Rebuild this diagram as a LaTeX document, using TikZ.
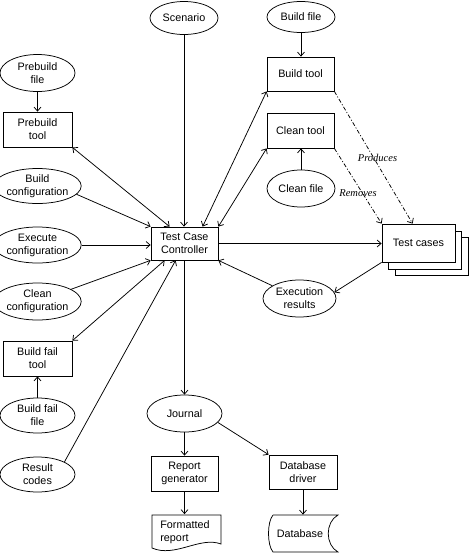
\documentclass[tikz,border=0pt]{standalone}
\usepackage{fontspec}
\setmainfont{Liberation Sans}
\newfontfamily\lblfont{Liberation Serif}
\usetikzlibrary{shapes.geometric,arrows.meta,calc}
\begin{document}
\begin{tikzpicture}[x=1pt,y=-1pt,
 every node/.style={font=\fontsize{10.8}{13}\selectfont, align=center, inner sep=0pt},
 ell/.style={draw, ellipse, minimum width=75pt, minimum height=37pt},
 box/.style={draw, rectangle, minimum width=68pt, minimum height=35pt},
 arr/.style={-{Straight Barb[length=4pt,width=7pt]}},
 darr/.style={{Straight Barb[length=4pt,width=7pt]}-{Straight Barb[length=4pt,width=7pt]}},
 dd/.style={arr, dash pattern=on 4pt off 2pt on 1pt off 2pt},
 lbl/.style={font=\lblfont\itshape\fontsize{10.5}{12}\selectfont},
 line width=0.75pt]
\useasboundingbox[fill=white] (0,0) rectangle (470,555);

% left column
\node[ell, minimum width=68pt, minimum height=33pt] (sc) at (184,18) {Scenario};
\node[ell] (pf) at (37.5,73) {Prebuild\\file};
\node[box, minimum width=69pt] (pt) at (37.5,129.5) {Prebuild\\tool};
\node[ell, minimum height=35pt] (bc) at (37.5,186) {Build\\configuration};
\node[ell, minimum height=36pt] (ec) at (37.5,245) {Execute\\configuration};
\node[box, minimum width=67pt, minimum height=33pt] (tcc) at (184.5,243.5) {Test Case\\Controller};
\node[ell] (cc) at (37.5,301.5) {Clean\\configuration};
\node[box, minimum width=69pt] (bft) at (37.5,358.5) {Build fail\\tool};
\node[ell, minimum height=35pt] (bff) at (37.5,415.5) {Build fail\\file};
\node[ell, minimum height=35pt] (rc) at (37.5,474.5) {Result\\codes};

% bottom
\node[ell] (jr) at (184.5,413.5) {Journal};
\node[box, minimum width=67pt] (rg) at (184.5,473.5) {Report\\generator};
\node[box, minimum width=68pt, minimum height=34pt] (dbd) at (303,472) {Database\\driver};

% formatted report (document shape)
\node[minimum width=69pt, minimum height=35pt] (frbox) at (186.5,532) {};
\draw (152,515) -- (221,515) -- (221,544) .. controls (200,536) and (175,558) .. (152,548) -- cycle;
\node[align=left] (fr) at (185,532) {Formatted\\report};

% database (stored data shape)
\node[minimum width=62pt, minimum height=37pt] (db) at (300,533.5) {Database};
\draw (273,515) -- (338,515) .. controls (325,522) and (325,545) .. (338,552)
      -- (273,552) .. controls (267,545) and (267,522) .. (273,515);

% right column
\node[ell, minimum width=68pt, minimum height=31pt] (bf) at (301,17) {Build file};
\node[box, minimum width=67pt, minimum height=34pt] (bt) at (300.5,74) {Build tool};
\node[box, minimum width=67pt] (ct) at (300.5,130.5) {Clean tool};
\node[ell, minimum width=68pt] (cf) at (301,188.5) {Clean file};
\node[ell, minimum width=73pt] (er) at (299.5,298.5) {Execution\\results};

% test cases stack
\node[box, fill=white, minimum width=73pt, minimum height=38pt] (tc3) at (431.5,256.5) {};
\node[box, fill=white, minimum width=73pt, minimum height=38pt] (tc2) at (425,250) {};
\node[box, fill=white, minimum width=73pt, minimum height=38pt] (tc) at (418.5,243) {Test cases};

% connectors
\draw[arr] (pf) -- (pt);
\draw[darr] (pt.south east) -- ($(tcc.north west)+(19,0)$);
\draw[arr] (bc.-12) -- (tcc.north west);
\draw[arr] (ec.east) -- (ec.east -| tcc.west);
\draw[arr] (sc.south) -- (sc.south |- tcc.north);
\draw[darr] (bt.south west) -- ($(tcc.north west)+(52,0)$);
\draw[darr] (ct.south west) -- (tcc.north east);
\draw[arr] (bf.south) -- (bf.south |- bt.north);
\draw[arr] (cf.north) -- (cf.north |- ct.south);
\draw[dd] (bt.south east) -- ($(tc.north west)+(31,0)$);
\draw[dd] (ct.south east) -- (tc.north west);
\node[lbl] (prod) at (377.5,158) {Produces};
\node[lbl] (rem) at (358,193) {Removes};
\draw[arr] (tcc.east) -- (tcc.east -| tc.west);
\draw[arr] (tc.south west) -- (er.10);
\draw[arr] (er) -- (tcc.south east);
\draw[arr] (cc) -- (tcc.south west);
\draw[darr] ($(tcc.south west)+(14,0)$) -- (bft.north east);
\draw[arr] (rc.25) -- ($(tcc.south west)+(25,0)$);
\draw[arr] (bff) -- (bft);
\draw[arr] (tcc.south) -- (jr.north);
\draw[arr] (jr) -- (rg);
\draw[arr] (jr.-15) -- (dbd.north west);
\draw[arr] (rg.south) -- (rg.south |- frbox.north);
\draw[arr] (dbd.south) -- (dbd.south |- db.north);
\end{tikzpicture}
\end{document}
